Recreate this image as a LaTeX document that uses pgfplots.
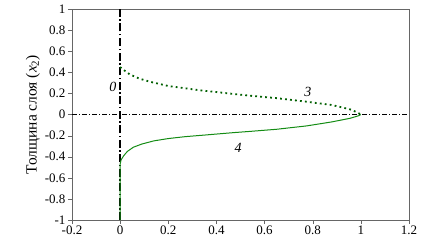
\documentclass[border=0pt]{standalone}
\usepackage{pgfplots}
\pgfplotsset{compat=1.18}
\usepackage{fontspec}
\setmainfont{Liberation Serif}
\definecolor{dg}{RGB}{0,95,0}
\definecolor{lg}{RGB}{20,140,20}
\begin{document}
\begin{tikzpicture}
\useasboundingbox (-72pt,-24pt) rectangle (350pt,220pt);
\begin{axis}[
  scale only axis, width=337pt, height=211pt,
  xmin=-0.2, xmax=1.2, ymin=-1, ymax=1,
  xtick={-0.2,0,0.2,0.4,0.6,0.8,1,1.2},
  ytick={-1,-0.8,-0.6,-0.4,-0.2,0,0.2,0.4,0.6,0.8,1},
  xticklabels={-0.2,0,0.2,0.4,0.6,0.8,1,1.2},
  yticklabels={-1,-0.8,-0.6,-0.4,-0.2,0,0.2,0.4,0.6,0.8,1},
  tick align=outside, tick pos=left,
  major tick length=4pt,
  axis line style={gray!80!black},
  tick style={gray!80!black},
  ticklabel style={font=\fontsize{13}{14}\selectfont},
  xticklabel style={yshift=1.5pt},
  yticklabel style={xshift=1pt},
  ylabel={Толщина слоя (\textit{x}\textsubscript{2})},
  ylabel style={font=\fontsize{15.5}{17}\selectfont, yshift=-2pt},
  clip=false,
]
\addplot[black, thin, dash pattern=on 5pt off 2pt on 1pt off 2pt] coordinates {(-0.2,0) (1.2,0)};
\addplot[black, line width=1.3pt, dash pattern=on 8pt off 2.5pt on 1.5pt off 2.5pt] coordinates {(0,-1) (0,1)};
\addplot[lg, line width=1pt] coordinates {(0,-1) (0,-0.47) (0.004,-0.43) (0.015,-0.39) (0.03,-0.35) (0.055,-0.31) (0.09,-0.28) (0.14,-0.25) (0.2,-0.228) (0.27,-0.21) (0.35,-0.195) (0.47,-0.172) (0.54,-0.16) (0.65,-0.14) (0.775,-0.108) (0.88,-0.07) (0.955,-0.036) (0.99,-0.012) (1.0,0)};
\addplot[dg, line width=1.8pt, line cap=butt, dash pattern=on 1.8pt off 3.2pt] coordinates {(0,0.45) (0.01,0.43) (0.04,0.38) (0.08,0.34) (0.125,0.31) (0.2,0.27) (0.33,0.23) (0.45,0.2) (0.54,0.178) (0.65,0.155) (0.775,0.121) (0.88,0.09) (0.955,0.049) (0.985,0.02) (1.0,0)};
\node[font=\itshape\fontsize{14}{16}\selectfont] at (axis cs:-0.03,0.26) {0};
\node[font=\itshape\fontsize{14}{16}\selectfont] at (axis cs:0.78,0.21) {3};
\node[font=\itshape\fontsize{14}{16}\selectfont] at (axis cs:0.49,-0.32) {4};
\end{axis}
\end{tikzpicture}
\end{document}
